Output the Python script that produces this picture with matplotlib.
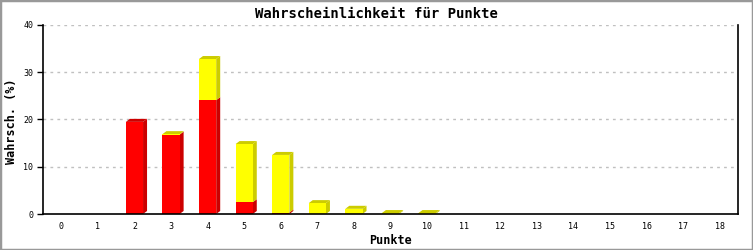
import numpy as np
import matplotlib.pyplot as plt
from matplotlib.patches import Polygon, Rectangle

punkte = list(range(19))
rot = [0, 0, 19.5, 16.8, 24.1, 2.5, 0.3, 0, 0, 0, 0, 0, 0, 0, 0, 0, 0, 0, 0]
gelb = [0, 0, 0, 0.1, 8.7, 12.3, 12.2, 2.3, 1.1, 0.2, 0.2, 0, 0, 0, 0, 0, 0, 0, 0]

W, H = 753, 250
fig = plt.figure(figsize=(W / 100, H / 100), dpi=100)
ax = fig.add_axes([43 / W, (H - 214) / H, 695 / W, 189 / H])

mono = "DejaVu Sans Mono"
ax.set_xlim(-0.5, 18.5)
ax.set_ylim(0, 40)

# grid
for g in [10, 20, 30, 40]:
    ax.axhline(g, color="#c0c0c0", lw=1, ls=(0, (2, 3)), zorder=0)

bw = 0.47
dx = 4 / 36.6   # depth in data units (x)
dy = 3 / 4.725  # depth in data units (y)

def draw_3d(x0, y0, y1, front, side, top):
    x1 = x0 + bw
    ax.add_patch(Rectangle((x0, y0), bw, y1 - y0, facecolor=front, edgecolor="none", zorder=3))
    ax.add_patch(Polygon([(x1, y0), (x1 + dx, y0 + dy), (x1 + dx, y1 + dy), (x1, y1)],
                         closed=True, facecolor=side, edgecolor="none", zorder=2))
    if top:
        ax.add_patch(Polygon([(x0, y1), (x1, y1), (x1 + dx, y1 + dy), (x0 + dx, y1 + dy)],
                             closed=True, facecolor=side, edgecolor="none", zorder=2))

for i, p in enumerate(punkte):
    r, g = rot[i], gelb[i]
    x0 = p - bw / 2
    if r > 0:
        draw_3d(x0, 0, r, "#ff0000", "#cc0000", g == 0)
    if g > 0:
        draw_3d(x0, r, r + g, "#ffff00", "#cccc00", True)

ax.set_xticks(punkte)
ax.set_xticklabels([str(p) for p in punkte], fontfamily=mono, fontsize=6)
ax.set_yticks([0, 10, 20, 30, 40])
ax.set_yticklabels(["0", "10", "20", "30", "40"], fontfamily=mono, fontsize=6)
ax.tick_params(axis="x", length=0, pad=6)
ax.tick_params(axis="y", length=4, width=1, pad=3)

ax.spines["top"].set_visible(False)
for s in ["left", "bottom", "right"]:
    ax.spines[s].set_color("black")
    ax.spines[s].set_linewidth(1.2)
ax.spines["bottom"].set_zorder(5)

fig.text(390 / W, 1 - 240 / H, "Punkte", ha="center", va="center",
         fontfamily=mono, fontweight="bold", fontsize=8.5)
fig.text(12 / W, 1 - 121 / H, "Wahrsch. (%)", ha="center", va="center", rotation=90,
         fontfamily=mono, fontweight="bold", fontsize=8.5)
fig.text(0.5, 1 - 14 / H, "Wahrscheinlichkeit für Punkte", ha="center", va="center",
         fontfamily=mono, fontweight="bold", fontsize=10)

fig.patches.append(Rectangle((0, 0), 1, 1, transform=fig.transFigure, fill=False,
                             edgecolor="#999999", linewidth=2.5))

fig.savefig("out.png", dpi=100)
